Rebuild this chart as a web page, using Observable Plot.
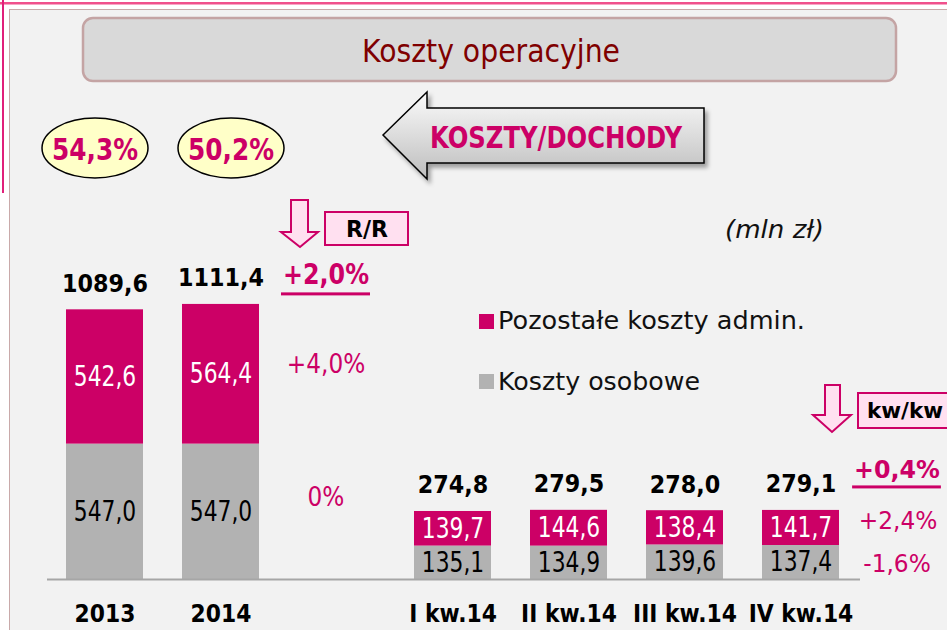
<!DOCTYPE html>
<html><head><meta charset="utf-8">
<script src="https://cdn.jsdelivr.net/npm/d3@7"></script>
<script src="https://cdn.jsdelivr.net/npm/@observablehq/plot@0.6"></script>
<style>
body{margin:0;background:#fff;}
#wrap{position:relative;width:947px;height:630px;overflow:hidden;}
#wrap > svg{position:absolute;left:0;top:0;}
</style></head><body><div id="wrap"></div>
<script>
// ---- data ----
const periods = ["2013", "2014", "I kw.14", "II kw.14", "III kw.14", "IV kw.14"];
const seriesNames = ["Koszty osobowe", "Pozostałe koszty admin."];
const osobowe = [547.0, 547.0, 135.1, 134.9, 139.6, 137.4];
const pozostale = [542.6, 564.4, 139.7, 144.6, 138.4, 141.7];
const totals = [1089.6, 1111.4, 274.8, 279.5, 278.0, 279.1];
const ratios = ["54,3%", "50,2%"];
const yoyChanges = ["+2,0%", "+4,0%", "0%"];     // total, admin, staff (R/R)
const qoqChanges = ["+0,4%", "+2,4%", "-1,6%"];  // total, admin, staff (kw/kw)
const gapSlot = "";
const xSlots = [periods[0], periods[1], gapSlot, ...periods.slice(2)];

const PINK = "#cc0066", GRAY = "#b2b2b2";
const F = '"DejaVu Sans",sans-serif';
const fmt = v => v.toFixed(1).replace(".", ",");

const rows = periods.flatMap((p, i) => [
  {period: p, series: seriesNames[0], value: osobowe[i]},
  {period: p, series: seriesNames[1], value: pozostale[i]}
]);
const totalRows = periods.map((p, i) => ({period: p, total: totals[i]}));
const last = periods.length - 1;

// ---- decorations (slide frame, title, arrows, legend) ----
const wrap = document.getElementById("wrap");
const decor = `
<svg width="947" height="630" xmlns="http://www.w3.org/2000/svg">
 <defs>
  <linearGradient id="ag" x1="0" y1="0" x2="0" y2="1">
   <stop offset="0" stop-color="#fbfbfb"/><stop offset="1" stop-color="#bdbdbd"/>
  </linearGradient>
  <filter id="sh" x="-10%" y="-10%" width="130%" height="140%">
   <feDropShadow dx="3" dy="4" stdDeviation="2" flood-color="#000" flood-opacity="0.35"/>
  </filter>
 </defs>
 <rect x="0" y="0" width="947" height="630" fill="#fff"/>
 <rect x="9.5" y="9.5" width="950" height="640" fill="#f2f2f2" stroke="#c9a9a9" stroke-width="1"/>
 <rect x="0" y="2" width="947" height="2.5" fill="#f0508c"/>
 <rect x="2" y="0" width="2" height="193" fill="#e0207a"/>
 <rect x="83" y="18" width="813" height="63" rx="10" fill="#d9d9d9" stroke="#c4a4a4" stroke-width="2.5"/>
 <text x="491" y="51" text-anchor="middle" dominant-baseline="central" font-family='${F}' font-size="32" fill="#7f0000" textLength="258" lengthAdjust="spacingAndGlyphs">Koszty operacyjne</text>
 ${ratios.map((r, i) => `
 <ellipse cx="${[95, 231][i]}" cy="148" rx="53" ry="30" fill="#ffffc8" stroke="#000" stroke-width="1.5"/>
 <text x="${[95, 231][i]}" y="149" text-anchor="middle" dominant-baseline="central" font-family='${F}' font-weight="bold" font-size="30" fill="${PINK}" textLength="86" lengthAdjust="spacingAndGlyphs">${r}</text>`).join("")}
 <polygon points="383,135 427,92 427,108 704,108 704,163 427,163 427,179" fill="url(#ag)" stroke="#000" stroke-width="1.5" filter="url(#sh)"/>
 <text x="556" y="137" text-anchor="middle" dominant-baseline="central" font-family='${F}' font-weight="bold" font-size="30" fill="${PINK}" textLength="252" lengthAdjust="spacingAndGlyphs">KOSZTY/DOCHODY</text>
 <polygon points="291,200 308,200 308,232 318,232 300,247 281,232 291,232" fill="#ffe0f0" stroke="${PINK}" stroke-width="2"/>
 <rect x="325" y="212" width="83" height="33" fill="#ffe0f0" stroke="${PINK}" stroke-width="2"/>
 <text x="367" y="229" text-anchor="middle" dominant-baseline="central" font-family='${F}' font-weight="bold" font-size="23" fill="#000" textLength="42" lengthAdjust="spacingAndGlyphs">R/R</text>
 <polygon points="825,385 840,385 840,415 851,415 832,432 813,415 825,415" fill="#ffe0f0" stroke="${PINK}" stroke-width="2"/>
 <rect x="858" y="393" width="100" height="35" fill="#ffe0f0" stroke="${PINK}" stroke-width="2"/>
 <text x="867" y="411" dominant-baseline="central" font-family='${F}' font-weight="bold" font-size="21" fill="#000" textLength="76" lengthAdjust="spacingAndGlyphs">kw/kw</text>
 <text x="725" y="229" dominant-baseline="central" font-family='${F}' font-style="italic" font-size="25" fill="#111" textLength="99" lengthAdjust="spacingAndGlyphs">(mln zł)</text>
 <rect x="479" y="314" width="15" height="15" fill="${PINK}"/>
 <text x="498" y="329" font-family='${F}' font-size="24" fill="#111" textLength="307" lengthAdjust="spacingAndGlyphs">${seriesNames[1]}</text>
 <rect x="479" y="374" width="15" height="15" fill="${GRAY}"/>
 <text x="498" y="390" font-family='${F}' font-size="24" fill="#111" textLength="202" lengthAdjust="spacingAndGlyphs">${seriesNames[0]}</text>
</svg>`;
wrap.insertAdjacentHTML("beforeend", decor);

// ---- chart ----
const chart = Plot.plot({
  width: 947, height: 630,
  marginTop: 282, marginBottom: 51, marginLeft: 27.5, marginRight: 68.5,
  style: {background: "transparent", fontFamily: F, color: "#000", overflow: "visible"},
  x: {domain: xSlots, paddingInner: 0.336, paddingOuter: 0.336},
  y: {domain: [0, 1200], axis: null},
  color: {domain: seriesNames, range: [GRAY, PINK]},
  marks: [
    Plot.barY(rows, {x: "period", y: "value", fill: "series", z: "series"}),
    Plot.ruleY([0], {stroke: "#a6a6a6", strokeWidth: 2, insetLeft: 19.5, insetRight: 18.5}),
    Plot.text(rows, Plot.filter(d => d.series === seriesNames[0],
      Plot.stackY({x: "period", y: "value", z: "series", text: d => fmt(d.value), fill: "#000", fontSize: 28}))),
    Plot.text(rows, Plot.filter(d => d.series === seriesNames[1],
      Plot.stackY({x: "period", y: "value", z: "series", text: d => fmt(d.value), fill: "#fff", fontSize: 28}))),
    Plot.text(totalRows, {x: "period", y: "total", text: d => fmt(d.total), dy: -26, fontSize: 25, fontWeight: "bold", fill: "#000"}),
    Plot.axisX({tickSize: 0, tickPadding: 25, fontSize: 24, fontWeight: "bold", label: null}),
    // R/R changes
    Plot.text([yoyChanges[0]], {x: () => gapSlot, y: () => totals[1], text: d => d, dx: -11, dy: -29, fontSize: 28, fontWeight: "bold", fill: PINK}),
    Plot.text([yoyChanges[1]], {x: () => gapSlot, y: () => osobowe[1] + pozostale[1] / 2, text: d => d, dx: -11, dy: -10, fontSize: 27, fill: PINK}),
    Plot.text([yoyChanges[2]], {x: () => gapSlot, y: () => osobowe[1] / 2, text: d => d, dx: -11, dy: -14, fontSize: 27, fill: PINK}),
    // kw/kw changes
    Plot.text([qoqChanges[0]], {x: () => periods[last], y: () => totals[last], text: d => d, dx: 96, dy: -40, fontSize: 25, fontWeight: "bold", fill: PINK}),
    Plot.text([qoqChanges[1]], {x: () => periods[last], y: () => osobowe[last] + pozostale[last] / 2, text: d => d, dx: 97, dy: -7, fontSize: 25, fill: PINK}),
    Plot.text([qoqChanges[2]], {x: () => periods[last], y: () => osobowe[last] / 2, text: d => d, dx: 96, dy: 2, fontSize: 25, fill: PINK})
  ]
});
wrap.appendChild(chart);

// ---- narrow the (Tahoma-like) glyphs horizontally, by content group ----
const segSet = new Set([...osobowe, ...pozostale].map(fmt));
const totSet = new Set(totals.map(fmt));
const axSet = new Set(periods);
const yoyBold = new Set([yoyChanges[0]]);
const qoqBold = new Set([qoqChanges[0]]);
const yoySet = new Set([yoyChanges[1], yoyChanges[2]]);
const qoqSet = new Set([qoqChanges[1], qoqChanges[2]]);
const under = [];
d3.select(chart).selectAll("text").each(function () {
  const t = this.textContent;
  let k = null;
  if (segSet.has(t)) k = 0.78;
  else if (totSet.has(t)) k = 0.89;
  else if (axSet.has(t)) k = 0.91;
  else if (yoySet.has(t)) k = 0.86;
  else if (qoqSet.has(t)) k = 0.93;
  else if (yoyBold.has(t)) { k = 0.85; under.push(this); }
  else if (qoqBold.has(t)) { k = 0.95; under.push(this); }
  if (k != null && this.getComputedTextLength) {
    const L = this.getComputedTextLength();
    this.setAttribute("textLength", (L * k).toFixed(1));
    this.setAttribute("lengthAdjust", "spacingAndGlyphs");
  }
});
under.forEach(node => {
  const b = node.getBBox();
  const r = d3.select(node.parentNode).append("rect")
    .attr("x", b.x - 2).attr("width", b.width + 3)
    .attr("y", b.y + b.height + 1).attr("height", 3)
    .attr("fill", PINK);
  const tr = node.getAttribute("transform");
  if (tr) r.attr("transform", tr);
});
</script></body></html>
